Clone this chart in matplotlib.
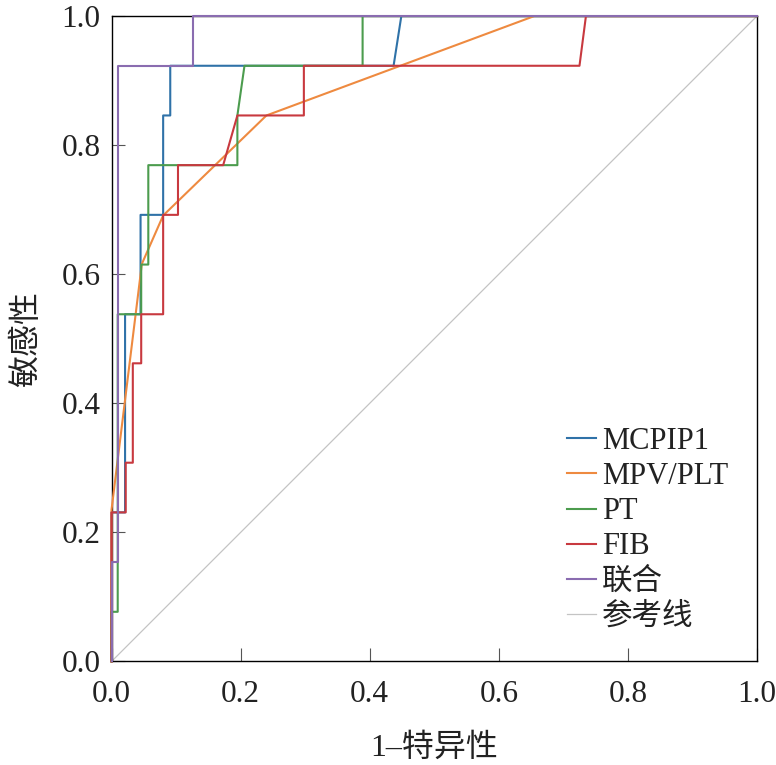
#!/usr/bin/env python3
""" ROC curves of MCPIP1, MPV/PLT, PT, FIB and the combination.
"""
import matplotlib
matplotlib.use('Agg')
import matplotlib.pyplot as plt

# values
mcpip1_fpr = [0, 0, 0.021, 0.021, 0.045, 0.045, 0.080, 0.080, 0.091, 0.091, 0.437, 0.449, 1.0]
mcpip1_tpr = [0, 0.231, 0.231, 0.538, 0.538, 0.692, 0.692, 0.846, 0.846, 0.923, 0.923, 1.0, 1.0]

mpv_fpr = [0, 0, 0.047, 0.080, 0.240, 0.655, 1.0]
mpv_tpr = [0, 0.235, 0.616, 0.691, 0.846, 1.0, 1.0]

pt_fpr = [0, 0, 0.0096, 0.0096, 0.046, 0.046, 0.057, 0.057, 0.195, 0.195, 0.206, 0.389, 0.389, 1.0]
pt_tpr = [0, 0.077, 0.077, 0.538, 0.538, 0.615, 0.615, 0.769, 0.769, 0.846, 0.923, 0.923, 1.0, 1.0]

fib_fpr = [0, 0, 0.022, 0.022, 0.033, 0.033, 0.046, 0.046, 0.080, 0.080, 0.103, 0.103,
           0.173, 0.195, 0.298, 0.298, 0.725, 0.735, 1.0]
fib_tpr = [0, 0.231, 0.231, 0.308, 0.308, 0.462, 0.462, 0.538, 0.538, 0.692, 0.692, 0.769,
           0.769, 0.846, 0.846, 0.923, 0.923, 1.0, 1.0]

comb_fpr = [0, 0, 0.0096, 0.0096, 0.126, 0.126, 1.0]
comb_tpr = [0, 0.154, 0.154, 0.923, 0.923, 1.0, 1.0]

ref_line = [0, 1]

labels = ['MCPIP1', 'MPV/PLT', 'PT', 'FIB', '联合', '参考线']
colors = ['#2f72a8', '#ee8a40', '#4c9c4e', '#c8393f', '#8a6cb0', '#c4c4c4']
ticks = [0.0, 0.2, 0.4, 0.6, 0.8, 1.0]
tick_labels = ['0.0', '0.2', '0.4', '0.6', '0.8', '1.0']

plt.rcParams['font.family'] = ['Liberation Serif', 'Noto Sans CJK SC', 'DejaVu Sans']

fig = plt.figure(figsize=(7.76, 7.65), dpi=100)
ax = fig.add_axes([0.1437, 0.1353, 0.8318, 0.8437])

curves = [(mcpip1_fpr, mcpip1_tpr), (mpv_fpr, mpv_tpr), (pt_fpr, pt_tpr),
          (fib_fpr, fib_tpr), (comb_fpr, comb_tpr)]
ax.plot(ref_line, ref_line, color=colors[5], lw=0.9, zorder=1, label=labels[5])
handles = []
for (fx, ty), lab, col in zip(curves, labels[:5], colors[:5]):
    h, = ax.plot(fx, ty, color=col, lw=1.5, label=lab, clip_on=False, zorder=3)
    handles.append(h)
handles.append(ax.lines[0])

ax.set_xlim(0, 1)
ax.set_ylim(0, 1)
ax.set_xticks(ticks)
ax.set_yticks(ticks)
ax.set_xticklabels(tick_labels)
ax.set_yticklabels(tick_labels)
ax.tick_params(direction='in', length=9.5, width=0.8, color='#555555',
               labelsize=22.5, labelcolor='#222222')
ax.tick_params(axis='x', pad=13)
ax.tick_params(axis='y', pad=8)
for sp in ax.spines.values():
    sp.set_linewidth(1.0)
    sp.set_color('black')

ax.set_xlabel('1–特异性', fontsize=23, color='#222222', labelpad=18)
ax.set_ylabel('敏感性', fontsize=23, color='#222222', labelpad=14)

ax.legend(handles=handles, labels=labels, loc='upper left',
          bbox_to_anchor=(567 / 776, 1 - 427 / 765), bbox_transform=fig.transFigure,
          frameon=False, fontsize=22, handlelength=0.95, handletextpad=0.2,
          labelspacing=0.2, borderpad=0, borderaxespad=0, labelcolor='#222222')

fig.savefig('out.png', dpi=100)
